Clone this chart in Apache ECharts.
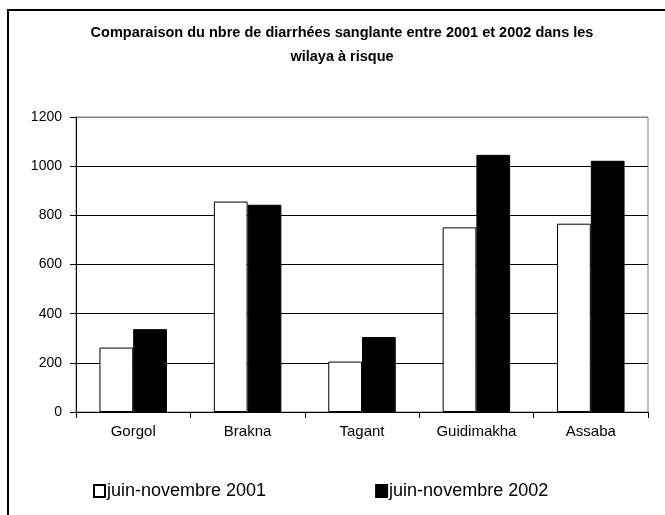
<!DOCTYPE html>
<html>
<head>
<meta charset="utf-8">
<script src="https://cdn.jsdelivr.net/npm/echarts@6/dist/echarts.min.js"></script>
<style>
  html, body { margin: 0; padding: 0; background: #fff; }
  #chart { width: 665px; height: 515px; }
</style>
</head>
<body>
<div id="chart"></div>
<script>
// wilayas
var categories = ['Gorgol', 'Brakna', 'Tagant', 'Guidimakha', 'Assaba']
// nbre de diarrhées sanglantes
var values2001 = [262, 856, 205, 751, 766]
var values2002 = [337, 843, 305, 1046, 1022]
var seriesNames = ['juin-novembre 2001', 'juin-novembre 2002']

var font = 'Liberation Sans, Arial, sans-serif'
var chart = echarts.init(document.getElementById('chart'))

chart.setOption({
  animation: false,
  backgroundColor: '#fff',
  title: {
    text: 'Comparaison du nbre de diarrhées sanglante entre 2001 et 2002 dans les\nwilaya à risque',
    left: 337,
    top: 16,
    textAlign: 'center',
    textStyle: {
      fontFamily: font,
      fontSize: 14.5,
      fontWeight: 'bold',
      color: '#000',
      lineHeight: 24
    }
  },
  // cadre autour du graphique
  graphic: [{
    type: 'rect',
    shape: { x: 8, y: 10, width: 700, height: 600 },
    style: { fill: 'none', stroke: '#000', lineWidth: 2 },
    silent: true
  }],
  legend: {
    data: seriesNames,
    left: 93,
    top: 482,
    padding: 0,
    icon: 'rect',
    itemWidth: 11,
    itemHeight: 12,
    itemGap: 109,
    textStyle: {
      fontFamily: font,
      fontSize: 18,
      color: '#000',
      padding: [0, 0, 0, -3]
    }
  },
  grid: {
    left: 76,
    right: 17,
    top: 117,
    bottom: 103,
    show: true,
    borderColor: '#808080',
    borderWidth: 1,
    backgroundColor: 'transparent'
  },
  xAxis: {
    type: 'category',
    data: categories,
    axisLine: { lineStyle: { color: '#000', width: 1 } },
    axisTick: { show: true, length: 6, lineStyle: { color: '#000' } },
    axisLabel: { fontFamily: font, fontSize: 15, color: '#000', margin: 12 }
  },
  yAxis: {
    type: 'value',
    min: 0,
    max: 1200,
    interval: 200,
    axisLine: { show: true, lineStyle: { color: '#000', width: 1 } },
    axisTick: { show: true, length: 6, lineStyle: { color: '#000' } },
    axisLabel: {
      fontFamily: font,
      fontSize: 14,
      color: '#000',
      margin: 14,
      formatter: function (v) { return String(v) }
    },
    splitLine: {
      lineStyle: {
        color: ['#000', '#000', '#000', '#000', '#000', '#000', '#808080'],
        width: 1
      }
    }
  },
  series: [
    {
      name: seriesNames[0],
      type: 'bar',
      data: values2001,
      barGap: 0,
      barCategoryGap: '41%',
      itemStyle: { color: '#fff', borderColor: '#000', borderWidth: 1 }
    },
    {
      name: seriesNames[1],
      type: 'bar',
      data: values2002,
      itemStyle: { color: '#000', borderColor: '#000', borderWidth: 1 }
    }
  ]
})
</script>
</body>
</html>
